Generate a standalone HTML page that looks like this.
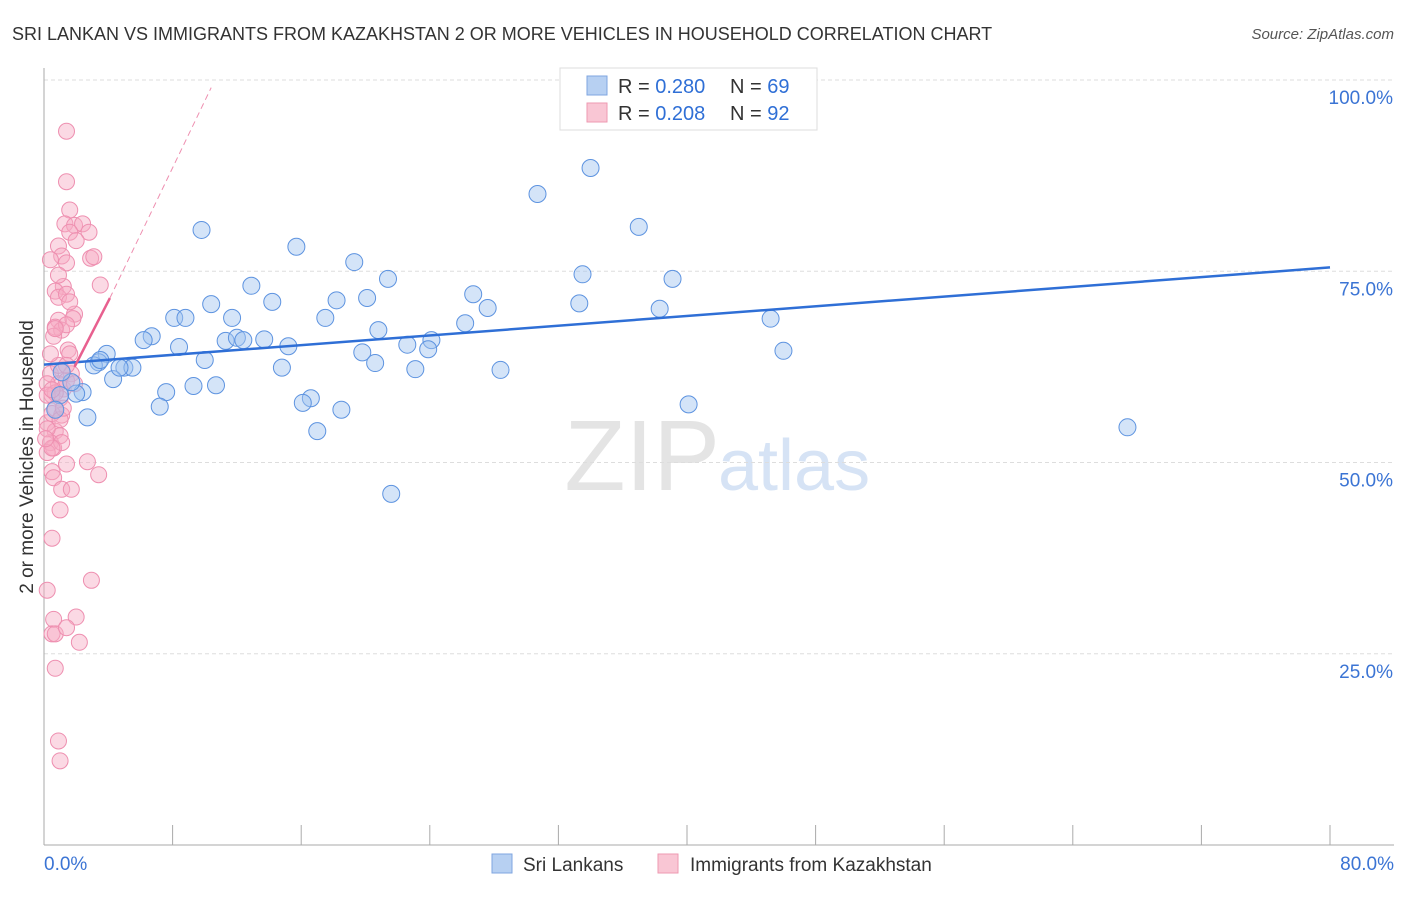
<!DOCTYPE html>
<html><head><meta charset="utf-8"><style>
body{margin:0;background:#fff;font-family:"Liberation Sans",sans-serif;}
svg text{font-family:"Liberation Sans",sans-serif;}
</style></head><body>
<svg id="c" width="1406" height="892" xmlns="http://www.w3.org/2000/svg">
<text x="12" y="40" font-size="18" fill="#333">SRI LANKAN VS IMMIGRANTS FROM KAZAKHSTAN 2 OR MORE VEHICLES IN HOUSEHOLD CORRELATION CHART</text>
<text x="1394" y="39" font-size="15" fill="#555" font-style="italic" text-anchor="end">Source: ZipAtlas.com</text>
<text x="720" y="490" font-size="100" fill="#e4e4e4" text-anchor="end" font-family="Liberation Serif">ZIP</text>
<text x="718" y="490" font-size="72" fill="#d6e3f5">atlas</text>
<text transform="translate(33,457) rotate(-90)" font-size="19" fill="#333" text-anchor="middle">2 or more Vehicles in Household</text>
<g id="grid"></g><g id="axes"></g><g id="pink"></g><g id="blue"></g><g id="lines"></g>
<g>
<rect x="560" y="68" width="257" height="62" fill="#fff" stroke="#ddd"/>
<rect x="587" y="76" width="20" height="19" fill="#b7d0f2" stroke="#7fa6e0"/>
<text x="618" y="93" font-size="20" fill="#333">R = <tspan fill="#2f6fd6">0.280</tspan></text>
<text x="730" y="93" font-size="20" fill="#333">N = <tspan fill="#2f6fd6">69</tspan></text>
<rect x="587" y="103" width="20" height="19" fill="#f9c6d4" stroke="#ee99b2"/>
<text x="618" y="120" font-size="20" fill="#333">R = <tspan fill="#2f6fd6">0.208</tspan></text>
<text x="730" y="120" font-size="20" fill="#333">N = <tspan fill="#2f6fd6">92</tspan></text>
</g>
<g>
<rect x="492" y="854" width="20" height="19" fill="#b7d0f2" stroke="#7fa6e0"/>
<text x="523" y="871" font-size="19" fill="#333">Sri Lankans</text>
<rect x="658" y="854" width="20" height="19" fill="#f9c6d4" stroke="#ee99b2"/>
<text x="690" y="871" font-size="19" fill="#333">Immigrants from Kazakhstan</text>
</g>
</svg>
<script>
const yTicks=[100,75,50,25];
const yTickLabels=["100.0%","75.0%","50.0%","25.0%"];
const xTicks=[0,8,16,24,32,40,48,56,64,72,80];
const blueX=[34.0,30.7,37.0,9.8,15.7,19.3,33.5,39.1,21.4,12.9,26.7,10.4,14.2,18.2,20.1,27.6,33.3,38.3,45.2,8.1,8.8,11.7,17.5,26.2,20.8,6.7,6.2,11.3,12.0,12.4,13.7,8.4,15.2,22.6,24.1,23.9,19.8,46.0,3.9,3.4,3.1,10.0,20.6,5.0,5.5,14.8,23.1,28.4,4.3,9.3,10.7,7.6,2.4,2.0,16.6,16.1,7.2,18.5,40.1,2.7,17.0,67.4,21.6,1.7,1.0,4.7,0.7,1.1,3.5];
const blueY=[88.5,85.1,80.8,80.4,78.2,76.2,74.6,74.0,74.0,73.1,72.0,70.7,71.0,71.2,71.5,70.2,70.8,70.1,68.8,68.9,68.9,68.9,68.9,68.2,67.3,66.5,66.0,65.9,66.3,66.0,66.1,65.1,65.2,65.4,66.0,64.8,64.4,64.6,64.2,63.1,62.7,63.4,63.0,62.4,62.4,62.4,62.2,62.1,60.9,60.0,60.1,59.2,59.2,59.0,58.4,57.8,57.3,56.9,57.6,55.9,54.1,54.6,45.9,60.5,58.8,62.4,56.9,61.8,63.4];
const pinkX=[1.4,1.4,1.6,1.3,1.9,2.4,1.6,2.8,0.9,2.0,1.1,0.4,1.4,2.9,3.1,1.2,0.7,0.9,1.4,3.5,0.9,1.9,0.7,1.1,1.8,1.4,0.6,0.7,1.5,1.6,1.1,0.4,0.9,1.2,1.7,0.2,0.5,1.0,0.7,1.1,0.2,0.7,1.0,0.4,0.6,0.2,1.1,1.4,2.7,0.5,0.6,1.1,1.7,3.4,1.0,0.5,2.95,0.2,0.6,2.0,0.5,0.7,1.4,2.2,0.7,0.9,1.0,0.2,0.5,0.9,1.4,0.7,0.5,0.2,1.0,1.2,0.4,0.1,1.6,0.9,1.9,1.4,0.5];
const pinkY=[93.3,86.7,83.0,81.2,81.0,81.2,80.1,80.1,78.3,79.0,77.0,76.5,76.1,76.7,76.9,73.0,72.4,71.6,72.0,73.2,68.6,69.4,67.7,67.3,68.8,68.0,66.5,67.5,64.7,64.2,62.1,61.6,60.3,59.6,61.6,60.3,58.8,58.4,57.1,56.2,55.2,54.1,53.5,52.6,51.9,51.3,52.6,49.8,50.1,48.8,48.0,46.5,46.5,48.4,43.8,40.1,34.6,33.3,29.5,29.8,27.6,27.6,28.4,26.5,23.1,13.6,11.0,54.4,56.4,62.7,60.7,59.1,51.9,58.8,55.6,57.1,64.2,53.1,71.0,74.5,60.3,62.7,59.5];
const NS="http://www.w3.org/2000/svg";
const X=v=>44+v*16.075, Y=v=>80+(100-v)*7.65;
function mk(t,a,p){const e=document.createElementNS(NS,t);for(const k in a)e.setAttribute(k,a[k]);document.getElementById(p).appendChild(e);return e;}
yTicks.forEach((t,i)=>{
 const l=mk('line',{x1:44,x2:1394,y1:Y(t),y2:Y(t),stroke:'#ddd','stroke-dasharray':'4,3'},'grid');
 
 
 const tx=mk('text',{x:1393,y:Y(t)+24,'font-size':19,fill:'#3b74d4','text-anchor':'end'},'grid');tx.textContent=yTickLabels[i];
 
 
});
mk('line',{x1:44,x2:44,y1:68,y2:845,stroke:'#aaa'},'axes');
mk('line',{x1:44,x2:1394,y1:845,y2:845,stroke:'#aaa'},'axes');
xTicks.forEach(t=>{const l=mk('line',{x1:X(t),x2:X(t),y1:825,y2:845,stroke:'#aaa'},'axes');
 
 });
let a=mk('text',{x:44,y:870,'font-size':19,fill:'#3b74d4'},'axes');a.textContent='0.0%';


a=mk('text',{x:1394,y:870,'font-size':19,fill:'#3b74d4','text-anchor':'end'},'axes');a.textContent='80.0%';


pinkX.forEach((v,i)=>{const c=mk('circle',{cx:X(v),cy:Y(pinkY[i]),r:8,fill:'rgba(246,170,195,0.45)',stroke:'#ee8fb0','stroke-width':1},'pink');
 
 });
blueX.forEach((v,i)=>{const c=mk('circle',{cx:X(v),cy:Y(blueY[i]),r:8.5,fill:'rgba(160,195,240,0.45)',stroke:'#5d93e0','stroke-width':1},'blue');
 
 });
let t=mk('line',{x1:X(0),y1:Y(62.8),x2:X(80),y2:Y(75.5),stroke:'#2f6fd6','stroke-width':2.5},'lines');


t=mk('line',{x1:X(1.9),y1:Y(62.5),x2:X(4.1),y2:Y(71.5),stroke:'#e8608f','stroke-width':2.5},'lines');


t=mk('line',{x1:X(4.1),y1:Y(71.5),x2:X(10.4),y2:Y(99),stroke:'#ee8fb0','stroke-width':1,'stroke-dasharray':'6,4'},'lines');


</script>
</body></html>
